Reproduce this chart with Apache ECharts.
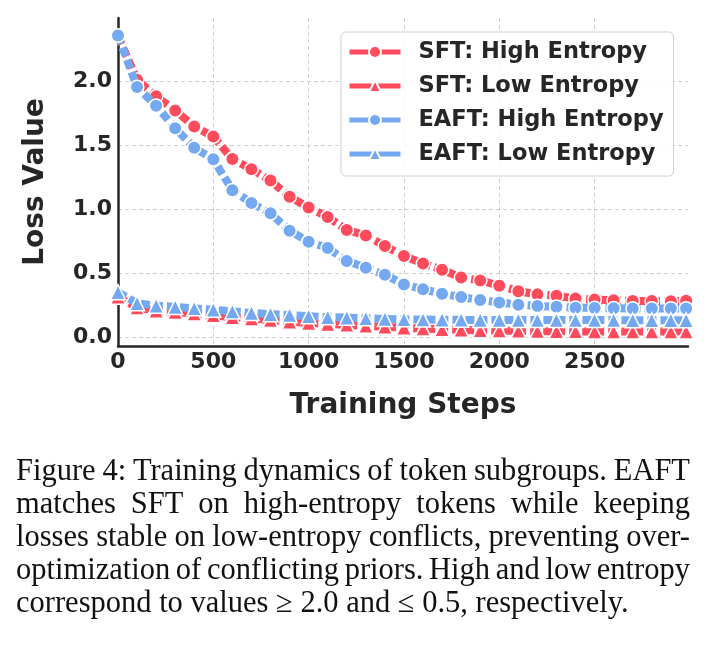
<!DOCTYPE html>
<html>
<head>
<meta charset="utf-8">
<script src="https://cdn.jsdelivr.net/npm/echarts/dist/echarts.min.js"></script>
<style>
  html, body { margin: 0; padding: 0; background: #fff; }
  #main { width: 707px; height: 651px; }
</style>
</head>
<body>
<div id="main"></div>
<script>
// training steps (last point sits on the right edge)
var steps = [0, 100, 200, 300, 400, 500, 600, 700, 800, 900, 1000, 1100, 1200, 1300, 1400,
  1500, 1600, 1700, 1800, 1900, 2000, 2100, 2200, 2300, 2400, 2500, 2600, 2700, 2800, 2900, 2980];

var sftHigh = [2.35, 2.01, 1.88, 1.77, 1.645, 1.566, 1.39, 1.311, 1.222, 1.095, 1.012, 0.938, 0.836, 0.793, 0.711,
  0.633, 0.574, 0.526, 0.464, 0.442, 0.401, 0.358, 0.333, 0.323, 0.300, 0.292, 0.287, 0.282, 0.281, 0.279, 0.284];
var sftLow = [0.315, 0.23, 0.205, 0.195, 0.183, 0.17, 0.155, 0.145, 0.132, 0.12, 0.11, 0.102, 0.095, 0.087, 0.08,
  0.072, 0.066, 0.06, 0.056, 0.052, 0.05, 0.048, 0.046, 0.045, 0.044, 0.043, 0.042, 0.042, 0.042, 0.042, 0.042];
var eaftHigh = [2.355, 1.953, 1.807, 1.63, 1.479, 1.388, 1.147, 1.046, 0.966, 0.83, 0.745, 0.695, 0.594, 0.541, 0.486,
  0.411, 0.373, 0.338, 0.312, 0.289, 0.27, 0.252, 0.242, 0.237, 0.229, 0.227, 0.224, 0.223, 0.222, 0.222, 0.222];
var eaftLow = [0.35, 0.263, 0.245, 0.235, 0.224, 0.213, 0.2, 0.188, 0.178, 0.172, 0.163, 0.155, 0.151, 0.146, 0.141,
  0.138, 0.136, 0.135, 0.134, 0.133, 0.133, 0.132, 0.132, 0.132, 0.132, 0.132, 0.132, 0.131, 0.131, 0.131, 0.131];

var seriesNames = ['SFT: High Entropy', 'SFT: Low Entropy', 'EAFT: High Entropy', 'EAFT: Low Entropy'];

var captionLines = [
  'Figure 4: Training dynamics of token subgroups. EAFT',
  'matches SFT on high-entropy tokens while keeping',
  'losses stable on low-entropy conflicts, preventing over-',
  'optimization of conflicting priors. High and low entropy',
  'correspond to values \u2265 2.0 and \u2264 0.5, respectively.'
];

var RED = '#ff4b5c';
var BLUE = '#74a9f2';
var DARK = '#262626';
var SANS = "'DejaVu Sans', sans-serif";

function pairs(vals) {
  return steps.map(function (s, i) { return [s, vals[i]]; });
}

function makeSeries(name, vals, color, symbol, size, z) {
  return {
    name: name,
    type: 'line',
    data: pairs(vals),
    symbol: symbol,
    symbolSize: size,
    z: z,
    lineStyle: { color: color, width: 8, type: [9, 4], cap: 'butt' },
    itemStyle: { color: color, borderColor: '#fff', borderWidth: 1.5 },
    emphasis: { disabled: true }
  };
}

// caption, justified like the paper
var capFont = "30.5px 'Liberation Serif', serif";
var capLeft = 16, capRight = 690, capBase = 487, capStep = 33;
var ctx = document.createElement('canvas').getContext('2d');
ctx.font = capFont;
var graphics = [];
captionLines.forEach(function (line, li) {
  var y = capBase + li * capStep;
  var words = line.split(' ');
  var widths = words.map(function (w) { return ctx.measureText(w).width; });
  var total = widths.reduce(function (a, b) { return a + b; }, 0);
  var gap = ctx.measureText(' ').width;
  if (li < captionLines.length - 1) gap = (capRight - capLeft - total) / (words.length - 1);
  var x = capLeft;
  words.forEach(function (w, wi) {
    graphics.push({
      type: 'text', x: x, y: y, silent: true,
      style: { text: w, font: capFont, fill: '#111', textAlign: 'left', textVerticalAlign: 'bottom', verticalAlign: 'bottom' }
    });
    x += widths[wi] + gap;
  });
});

var chart = echarts.init(document.getElementById('main'), null, { renderer: 'canvas' });
chart.setOption({
  animation: false,
  backgroundColor: '#fff',
  grid: { left: 118, right: 19, top: 18, bottom: 305, containLabel: false },
  legend: {
    orient: 'vertical',
    left: 341, top: 32,
    padding: [8, 10, 10, 6],
    itemGap: 10,
    itemWidth: 51, itemHeight: 15,
    backgroundColor: 'rgba(255,255,255,0.85)',
    borderColor: '#d0d0d0', borderWidth: 1, borderRadius: 5,
    lineStyle: { width: 5, type: 'solid' },
    textStyle: { fontFamily: SANS, fontWeight: 'bold', fontSize: 22.5, color: DARK, lineHeight: 24, padding: [0, 0, 0, 13] },
    data: seriesNames
  },
  xAxis: {
    type: 'value', min: 0, max: 2990, interval: 500,
    name: 'Training Steps', nameLocation: 'middle', nameGap: 46,
    nameTextStyle: { fontFamily: SANS, fontWeight: 'bold', fontSize: 28, color: DARK },
    axisLine: { show: true, onZero: false, lineStyle: { color: DARK, width: 2.5 } },
    axisTick: { show: false },
    axisLabel: { margin: 5, fontFamily: SANS, fontWeight: 'bold', fontSize: 22, color: DARK, showMaxLabel: false,
      formatter: function (v) { return v % 500 === 0 ? String(v) : ''; } },
    splitLine: { show: true, showMaxLine: false, lineStyle: { color: '#cfcfcf', width: 1, type: [4, 3] } }
  },
  yAxis: {
    type: 'value', min: -0.0703, max: 2.492, splitNumber: 5,
    name: 'Loss Value', nameLocation: 'middle', nameGap: 68, nameRotate: 90,
    nameTextStyle: { fontFamily: SANS, fontWeight: 'bold', fontSize: 28, color: DARK },
    axisLine: { show: true, onZero: false, lineStyle: { color: DARK, width: 2.5 } },
    axisTick: { show: false },
    axisLabel: { margin: 6, fontFamily: SANS, fontWeight: 'bold', fontSize: 22, color: DARK,
      showMinLabel: false, showMaxLabel: false,
      formatter: function (v) {
        var k = v / 0.5;
        return Math.abs(k - Math.round(k)) < 1e-6 ? v.toFixed(1) : '';
      } },
    splitLine: { show: true, showMinLine: false, showMaxLine: false, lineStyle: { color: '#cfcfcf', width: 1, type: [4, 3] } }
  },
  series: [
    makeSeries(seriesNames[0], sftHigh, RED, 'circle', 13.5, 2),
    makeSeries(seriesNames[1], sftLow, RED, 'triangle', 15, 2),
    makeSeries(seriesNames[2], eaftHigh, BLUE, 'circle', 13.5, 3),
    makeSeries(seriesNames[3], eaftLow, BLUE, 'triangle', 15, 3)
  ],
  graphic: graphics
});
</script>
</body>
</html>
